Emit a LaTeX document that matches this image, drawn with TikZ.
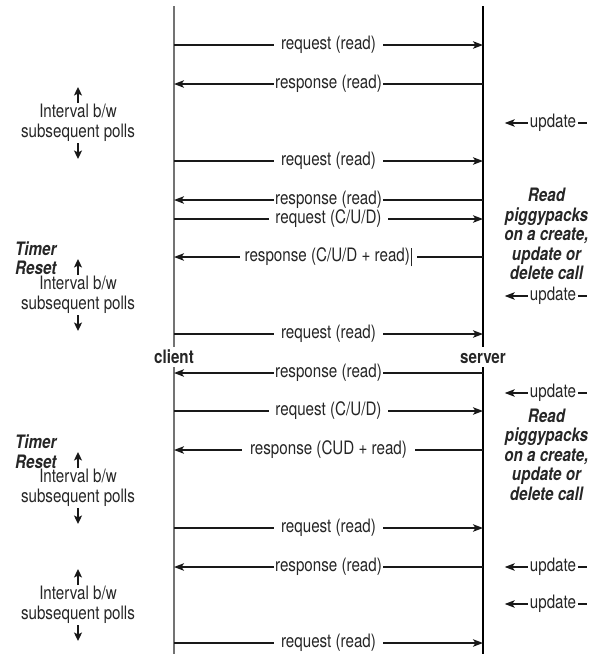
\documentclass[tikz,border=0pt]{standalone}
\usepackage{fontspec}
\setmainfont{TeX Gyre Heros}[FakeStretch=0.82]
\usetikzlibrary{arrows.meta}

\begin{document}
\begin{tikzpicture}[x=1pt,y=-1pt,
    every node/.style={font=\fontsize{18.5}{19.5}\selectfont,text=black!85},
    msg/.style={fill=white,inner ysep=1pt,inner xsep=#1},
    flow/.style={line width=1.5pt,draw=black!90,-{Stealth[length=10pt,width=7.5pt,inset=2.5pt]}},
    plain/.style={line width=1.5pt,draw=black!90},
    tick/.style={line width=1.6pt,draw=black!90,-{Stealth[length=8.5pt,width=8pt,inset=2pt]}},
    role/.style={font=\fontsize{18.5}{19.5}\selectfont\bfseries,text height=13pt,text depth=0pt,inner ysep=3.5pt},
    note/.style={font=\fontsize{18.5}{19.5}\selectfont\bfseries\itshape,align=center,inner sep=0pt},
    gap/.style={align=center,inner sep=0pt},
    upd/.style={inner xsep=2pt,inner ysep=0pt}]
  \useasboundingbox (0,0) rectangle (597,654);
  \node[role] (client) at (174,357) {client};
  \node[role] (server) at (483,357) {server};
  \coordinate (clitop) at (174,6);
  \coordinate (clibot) at (174,654);
  \coordinate (srvtop) at (483,6);
  \coordinate (srvbot) at (483,654);
  \begin{scope}[line width=1.2pt]
    \draw[black!55] (clitop) -- (client.north);
    \draw[black!55] (client.south) -- (clibot);
    \draw (srvtop) -- (server.north);
    \draw (server.south) -- (srvbot);
  \end{scope}
  \foreach \n/\y in {1/45,2/84,3/161,4/200,5/219,6/257,7/334,8/373,9/411,10/450,11/528,12/567,13/643}{
    \coordinate (c\n) at (174,\y);
    \coordinate (s\n) at (483,\y);
  }
  \draw[flow] (c1) -- node[msg=7pt] {request (read)} (s1);
  \draw[flow] (s2) -- node[msg=1.5pt] {response (read)} (c2);
  \draw[flow] (c3) -- node[msg=7pt] {request (read)} (s3);
  \draw[flow] (s4) -- node[msg=1.5pt] {response (read)} (c4);
  \draw[flow] (c5) -- node[msg=6pt] {request (C/U/D)} (s5);
  \draw[flow] (s6) -- node[msg=5pt] {response (C/U/D + read)\kern1.5pt\rule[-5pt]{0.9pt}{18pt}} (c6);
  \draw[flow] (c7) -- node[msg=7pt] {request (read)} (s7);
  \draw[flow] (s8) -- node[msg=1.5pt] {response (read)} (c8);
  \draw[flow] (c9) -- node[msg=6pt] {request (C/U/D)} (s9);
  \draw[flow] (s10) -- node[msg=8.5pt] {response (CUD + read)} (c10);
  \draw[flow] (c11) -- node[msg=7pt] {request (read)} (s11);
  \draw[flow] (s12) -- node[msg=1.5pt] {response (read)} (c12);
  \draw[flow] (c13) -- node[msg=7pt] {request (read)} (s13);
  \foreach \n/\y in {1/123,2/296,3/393,4/567,5/604}{
    \node[upd] (u\n) at (553,\y) {update};
    \draw[flow] (u\n.west) -- ++(-23,0);
    \draw[plain] (u\n.east) -- ++(9,0);
  }
  \foreach \n/\y in {1/123,2/295,3/488,4/605}{
    \node[gap] (i\n) at (78,\y) {Interval b/w\\subsequent polls};
    \draw[tick] (i\n.center) ++(0,-20) -- ++(0,-16);
    \draw[tick] (i\n.center) ++(0,20) -- ++(0,16);
  }
  \node[note,anchor=west,align=left] (t1) at (15,258) {Timer\\Reset};
  \node[note,anchor=west,align=left] (t2) at (15,451.5) {Timer\\Reset};
  \node[note] (p1) at (546.5,234) {Read\\piggypacks\\on a create,\\update or\\delete call};
  \node[note] (p2) at (546.5,454.5) {Read\\piggypacks\\on a create,\\update or\\delete call};
\end{tikzpicture}
\end{document}
